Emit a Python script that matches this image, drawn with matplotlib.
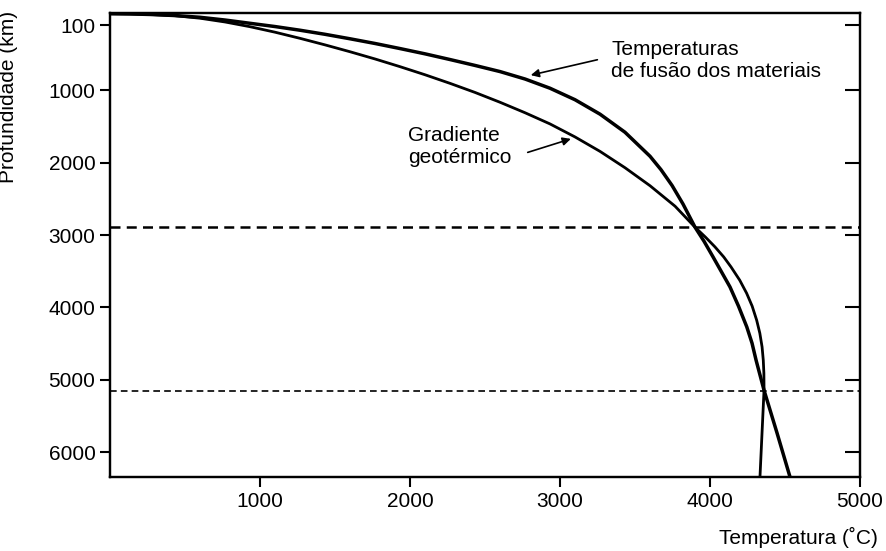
"""Melting temperature vs geothermal gradient with depth in the Earth."""

import matplotlib

matplotlib.use("Agg")
import matplotlib.pyplot as plt

plt.rcParams["font.family"] = ["Liberation Sans", "DejaVu Sans"]

# melting curve of materials (temperature degC, depth km)
melt_t = [0, 133, 267, 433, 600, 767, 933, 1100, 1267, 1433, 1600, 1767, 1933,
          2100, 2267, 2433, 2600, 2767, 2933, 3100, 3267, 3433, 3600, 3673, 3747,
          3820, 3900, 3960, 4020, 4133, 4190, 4245, 4280, 4307, 4360, 4447, 4533]
melt_d = [-57, -54, -47, -32, -8, 30, 75, 120, 171, 227, 289, 354, 424,
          497, 576, 657, 742, 845, 972, 1131, 1331, 1580, 1912, 2097, 2316,
          2572, 2892, 3086, 3302, 3717, 3983, 4269, 4494, 4729, 5144, 5737, 6341]

# geothermal gradient
geo_t = [0, 133, 267, 433, 600, 767, 933, 1100, 1267, 1433, 1600, 1767, 1933,
         2100, 2267, 2433, 2600, 2767, 2933, 3100, 3267, 3433, 3600, 3767, 3900,
         3970, 4033, 4091, 4140, 4198, 4244, 4281, 4311, 4332, 4347, 4355, 4359,
         4360, 4333]
geo_d = [-57, -54, -47, -30, 5, 57, 122, 198, 283, 373, 468, 568, 674,
         786, 905, 1030, 1166, 1311, 1465, 1645, 1845, 2070, 2319, 2602, 2892,
         3030, 3164, 3302, 3441, 3624, 3804, 3983, 4177, 4356, 4546, 4729, 4909,
         5144, 6341]

# boundaries (mantle/outer core, outer/inner core)
bounds = [2890, 5150]
bound_lw = [1.8, 1.2]

xticks = [1000, 2000, 3000, 4000, 5000]
yticks = [100, 1000, 2000, 3000, 4000, 5000, 6000]
FS = 15

fig = plt.figure(figsize=(8.87, 5.51), dpi=100)
ax = fig.add_axes([0.124, 0.134, 0.8456, 0.842])

ax.plot(geo_t, geo_d, color="black", lw=2.0, solid_joinstyle="round")
ax.plot(melt_t, melt_d, color="black", lw=2.5, solid_joinstyle="round")

for b, lw in zip(bounds, bound_lw):
    ax.axhline(b, color="black", lw=lw, dashes=(4, 2.5))

ax.set_xlim(0, 5000)
ax.set_ylim(6345, -64)

ax.set_xticks(xticks)
ax.set_yticks(yticks)
ax.set_yticklabels([str(v) for v in yticks])
ax.tick_params(axis="both", labelsize=FS, length=7, width=1.5, direction="out")
for s in ax.spines.values():
    s.set_linewidth(1.6)

# inward ticks on the right side, no labels
ax2 = ax.twinx()
ax2.set_ylim(ax.get_ylim())
ax2.set_yticks(yticks)
ax2.tick_params(axis="y", direction="in", length=11, width=1.5, labelright=False)
for s in ax2.spines.values():
    s.set_linewidth(1.6)

ax.set_ylabel("Profundidade (km)", fontsize=FS)
ax.yaxis.set_label_coords(-0.123, 0.82)
ax.text(1.024, -0.13, "Temperatura (˚C)", transform=ax.transAxes,
        ha="right", va="center", fontsize=FS)

# annotations
ax.annotate("", xy=(2787, 800), xytext=(3267, 570),
            arrowprops=dict(arrowstyle="-|>", color="black", lw=1.2, mutation_scale=12))
ax.text(3340, 585, "Temperaturas\nde fusão dos materiais", ha="left", va="center",
        fontsize=FS, linespacing=1.2)
ax.annotate("", xy=(3090, 1660), xytext=(2767, 1870),
            arrowprops=dict(arrowstyle="-|>", color="black", lw=1.2, mutation_scale=12))
ax.text(1987, 1774, "Gradiente\ngeotérmico", ha="left", va="center",
        fontsize=FS, linespacing=1.2)

plt.savefig("out.png", dpi=100)
